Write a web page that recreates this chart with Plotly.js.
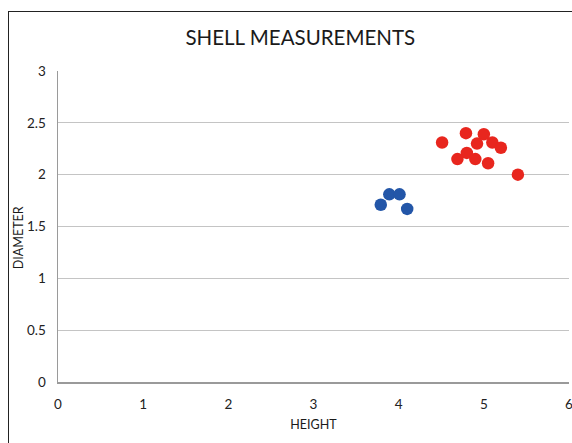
<!DOCTYPE html>
<html>
<head>
<meta charset="utf-8">
<script src="https://cdn.plot.ly/plotly-3.0.1.min.js"></script>
<style>
html,body{margin:0;padding:0;background:#fff;}
#wrap{position:relative;width:572px;height:443px;overflow:hidden;}
#frame{position:absolute;left:8px;top:11px;width:600px;height:500px;border:1px solid #222;box-sizing:border-box;pointer-events:none;z-index:5;}
#chart{position:absolute;left:0;top:0;width:572px;height:443px;}
</style>
</head>
<body>
<div id="wrap"><div id="chart"></div><div id="frame"></div></div>
<script>
const titleText = "SHELL MEASUREMENTS";
const xTitle = "HEIGHT";
const yTitle = "DIAMETER";

const blueHeight = [3.79, 3.89, 4.01, 4.10];
const blueDiameter = [1.71, 1.81, 1.81, 1.67];

const redHeight = [4.51, 4.79, 5.00, 4.92, 5.10, 5.20, 4.80, 4.69, 4.90, 5.05, 5.40];
const redDiameter = [2.31, 2.40, 2.39, 2.30, 2.31, 2.26, 2.21, 2.15, 2.15, 2.11, 2.00];

const xTicks = [0, 1, 2, 3, 4, 5, 6];
const yTicks = [0, 0.5, 1, 1.5, 2, 2.5, 3];

const font = "Lato, 'Open Sans', sans-serif";

const traces = [
  {x: blueHeight, y: blueDiameter, type: 'scatter', mode: 'markers',
   marker: {color: '#2356a8', size: 12.5}, cliponaxis: false, name: 'A'},
  {x: redHeight, y: redDiameter, type: 'scatter', mode: 'markers',
   marker: {color: '#e8261e', size: 12.5}, cliponaxis: false, name: 'B'}
];

const layout = {
  width: 572, height: 443,
  margin: {l: 58, r: 3, t: 71, b: 61},
  paper_bgcolor: '#fff', plot_bgcolor: '#fff',
  showlegend: false,
  title: {text: titleText, x: 0.525, xanchor: 'center', y: 0.915, yanchor: 'middle',
          font: {family: font, size: 20.5, color: '#1a1a1a'}},
  xaxis: {range: [0, 6], tickvals: xTicks, ticktext: xTicks.map(String),
          showgrid: false, zeroline: false, showline: true, linecolor: '#9a9a9a', linewidth: 1.5,
          ticks: 'outside', ticklen: 9, tickcolor: 'rgba(0,0,0,0)',
          ticklabeloverflow: 'allow',
          tickfont: {family: font, size: 13.5, color: '#222'},
          title: {text: xTitle, standoff: 9, font: {family: font, size: 12.5, color: '#1a1a1a'}},
          fixedrange: true},
  yaxis: {range: [0, 3], tickvals: yTicks, ticktext: yTicks.map(String),
          showgrid: true, gridcolor: '#c4c4c4', gridwidth: 1.2, zeroline: false,
          showline: true, linecolor: '#9a9a9a', linewidth: 1.5,
          ticks: 'outside', ticklen: 8, tickcolor: 'rgba(0,0,0,0)',
          ticklabeloverflow: 'allow',
          tickfont: {family: font, size: 13.5, color: '#222'},
          fixedrange: true},
  annotations: [
    {text: yTitle, xref: 'paper', yref: 'paper', x: -0.078, y: 0.463,
     xanchor: 'center', yanchor: 'middle', textangle: -90, showarrow: false,
     font: {family: font, size: 12.5, color: '#1a1a1a'}}
  ]
};

Plotly.newPlot('chart', traces, layout, {displayModeBar: false, staticPlot: true});
</script>
</body>
</html>
